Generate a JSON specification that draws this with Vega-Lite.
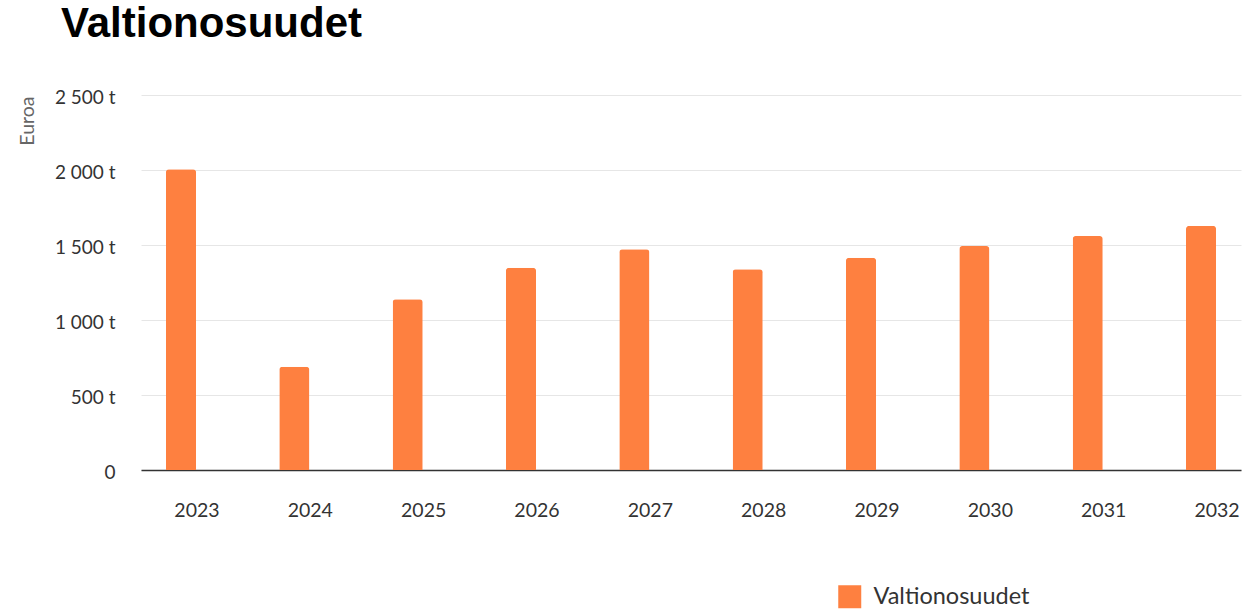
{
  "$schema": "https://vega.github.io/schema/vega-lite/v6.json",
  "autosize": "none",
  "padding": {"left": 141, "top": 95, "right": 4, "bottom": 140},
  "width": 1100,
  "height": 375,
  "background": "white",
  "view": {"stroke": null},
  "title": {
    "text": "Valtionosuudet",
    "anchor": "start",
    "frame": "group",
    "font": "Liberation Sans",
    "fontSize": 42,
    "fontWeight": "bold",
    "color": "#000000",
    "baseline": "alphabetic",
    "dx": -80,
    "offset": 0,
    "dy": -9
  },
  "data": {
    "values": [
      {"vuosi": "2023", "arvo": 2005, "sarja": "Valtionosuudet"},
      {"vuosi": "2024", "arvo": 689, "sarja": "Valtionosuudet"},
      {"vuosi": "2025", "arvo": 1138, "sarja": "Valtionosuudet"},
      {"vuosi": "2026", "arvo": 1349, "sarja": "Valtionosuudet"},
      {"vuosi": "2027", "arvo": 1471, "sarja": "Valtionosuudet"},
      {"vuosi": "2028", "arvo": 1339, "sarja": "Valtionosuudet"},
      {"vuosi": "2029", "arvo": 1415, "sarja": "Valtionosuudet"},
      {"vuosi": "2030", "arvo": 1493, "sarja": "Valtionosuudet"},
      {"vuosi": "2031", "arvo": 1560, "sarja": "Valtionosuudet"},
      {"vuosi": "2032", "arvo": 1627, "sarja": "Valtionosuudet"}
    ]
  },
  "mark": {"type": "bar", "cornerRadiusTopLeft": 3, "cornerRadiusTopRight": 3},
  "encoding": {
    "x": {
      "field": "vuosi",
      "type": "ordinal",
      "scale": {"paddingInner": 0.7345, "paddingOuter": 0.22},
      "axis": {
        "title": null,
        "labelAngle": 0,
        "labelFont": "Lato",
        "labelFontSize": 19.5,
        "labelColor": "#333333",
        "labelOffset": 16,
        "labelPadding": 31,
        "ticks": false,
        "domainColor": "#333333",
        "domainWidth": 1.5,
        "grid": false
      }
    },
    "y": {
      "field": "arvo",
      "type": "quantitative",
      "scale": {"domain": [0, 2500]},
      "axis": {
        "title": "Euroa",
        "titleFont": "Lato",
        "titleFontSize": 19.5,
        "titleFontWeight": "normal",
        "titleColor": "#666666",
        "titleAnchor": "end",
        "titleAngle": -90,
        "titleBaseline": "alphabetic",
        "titleX": -108,
        "titleY": 1,
        "titleAlign": "right",
        "values": [0, 500, 1000, 1500, 2000, 2500],
        "labelExpr": "datum.value == 0 ? '0' : replace(format(datum.value, ',d'), ',', ' ') + ' t'",
        "labelFont": "Lato",
        "labelFontSize": 19,
        "labelColor": "#333333",
        "labelPadding": 26,
        "labelBaseline": "middle",
        "labelOffset": 2,
        "ticks": false,
        "domain": false,
        "grid": true,
        "gridColor": "#e6e6e6",
        "gridWidth": 1
      }
    },
    "color": {
      "field": "sarja",
      "type": "nominal",
      "scale": {"range": ["#fe8040"]},
      "legend": {
        "title": null,
        "orient": "none",
        "legendX": 697,
        "legendY": 490,
        "padding": 0,
        "symbolType": "square",
        "symbolSize": 529,
        "symbolStrokeWidth": 0,
        "symbolOpacity": 1,
        "labelFont": "Lato",
        "labelFontSize": 23.5,
        "labelColor": "#333333",
        "labelOffset": 12
      }
    }
  }
}
